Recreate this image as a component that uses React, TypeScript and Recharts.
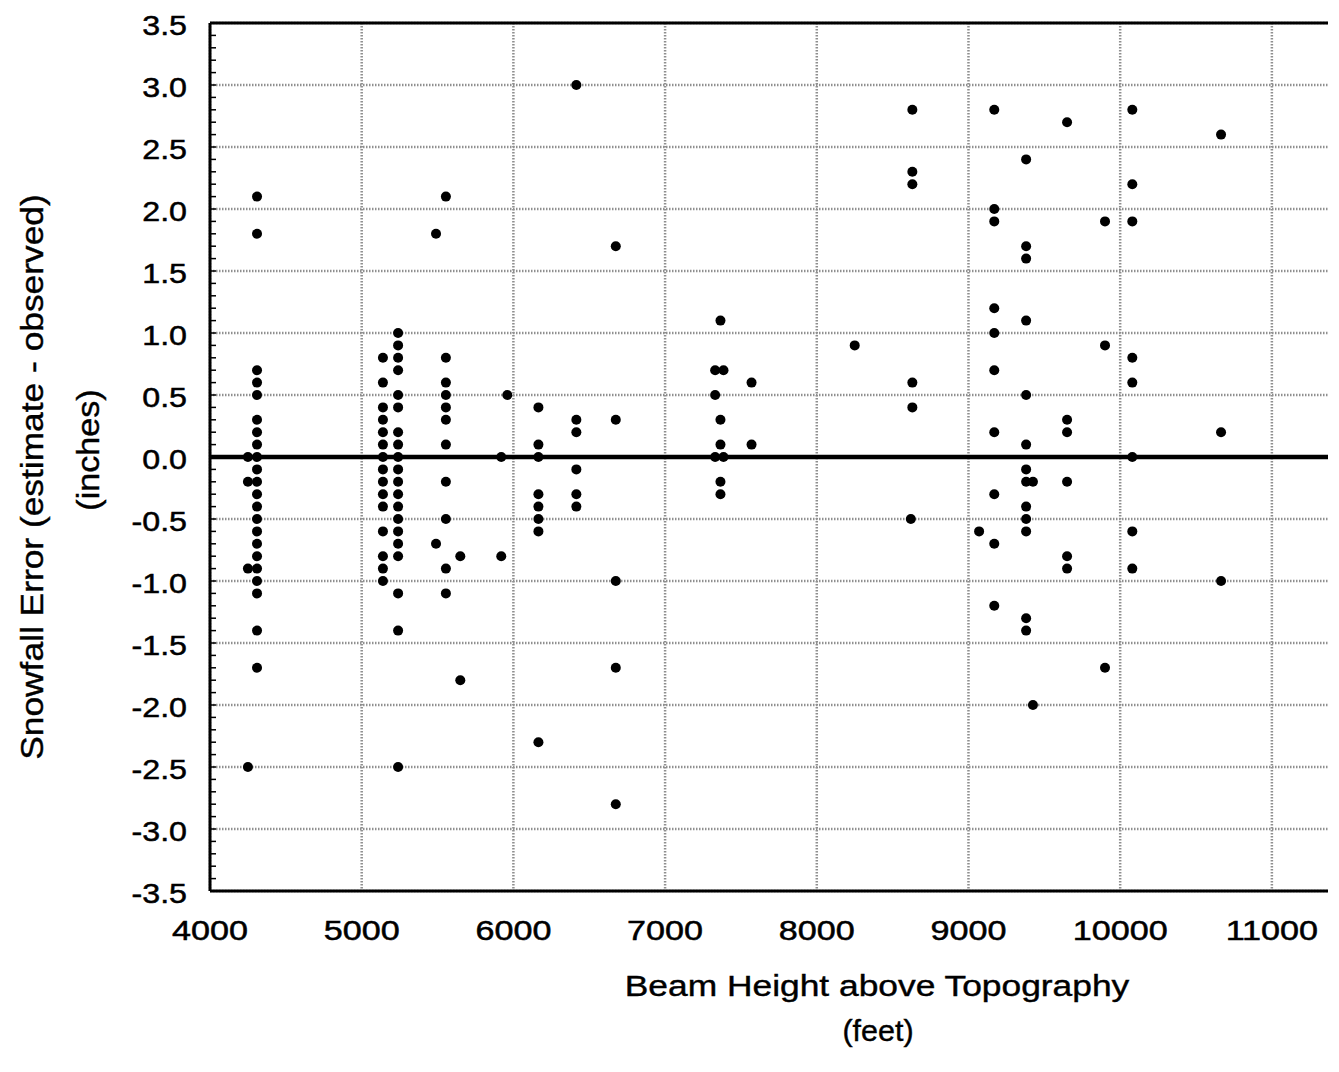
import React from 'react';
import { ScatterChart, Scatter, XAxis, YAxis, CartesianGrid, ReferenceLine } from 'recharts';

// Beam height above topography (feet) and snowfall error (inches)
const beamHeightFt = [
  4250, 4250, 4250, 4250,
  4310, 4310, 4310, 4310, 4310, 4310, 4310, 4310, 4310, 4310, 4310,
  4310, 4310, 4310, 4310, 4310, 4310, 4310, 4310, 4310, 4310, 4310,
  5140, 5140, 5140, 5140, 5140, 5140, 5140, 5140, 5140, 5140, 5140, 5140, 5140, 5140, 5140,
  5240, 5240, 5240, 5240, 5240, 5240, 5240, 5240, 5240, 5240,
  5240, 5240, 5240, 5240, 5240, 5240, 5240, 5240, 5240, 5240,
  5490, 5490,
  5555, 5555, 5555, 5555, 5555, 5555, 5555, 5555, 5555, 5555, 5555,
  5650, 5650,
  5920, 5920,
  5960,
  6165, 6165, 6165, 6165, 6165, 6165, 6165, 6165,
  6415, 6415, 6415, 6415, 6415, 6415,
  6675, 6675, 6675, 6675, 6675,
  7330, 7330, 7330,
  7365, 7365, 7365, 7365, 7365,
  7385, 7385,
  7570, 7570,
  8250,
  8620,
  8630, 8630, 8630, 8630, 8630,
  9070,
  9170, 9170, 9170, 9170, 9170, 9170, 9170, 9170, 9170, 9170,
  9380, 9380, 9380, 9380, 9380, 9380, 9380, 9380, 9380, 9380, 9380, 9380, 9380,
  9425, 9425,
  9650, 9650, 9650, 9650, 9650, 9650,
  9900, 9900, 9900,
  10080, 10080, 10080, 10080, 10080, 10080, 10080, 10080,
  10665, 10665, 10665,
];

const snowfallErrorIn = [
  0.0, -0.2, -0.9, -2.5,
  2.1, 1.8, 0.7, 0.6, 0.5, 0.3, 0.2, 0.1, 0.0, -0.1, -0.2,
  -0.3, -0.4, -0.5, -0.6, -0.7, -0.8, -0.9, -1.0, -1.1, -1.4, -1.7,
  0.8, 0.6, 0.4, 0.3, 0.2, 0.1, 0.0, -0.1, -0.2, -0.3, -0.4, -0.6, -0.8, -0.9, -1.0,
  1.0, 0.9, 0.8, 0.7, 0.5, 0.4, 0.2, 0.1, 0.0, -0.1,
  -0.2, -0.3, -0.4, -0.5, -0.6, -0.7, -0.8, -1.1, -1.4, -2.5,
  1.8, -0.7,
  2.1, 0.8, 0.6, 0.5, 0.4, 0.3, 0.1, -0.2, -0.5, -0.9, -1.1,
  -0.8, -1.8,
  0.0, -0.8,
  0.5,
  0.4, 0.1, 0.0, -0.3, -0.4, -0.5, -0.6, -2.3,
  3.0, 0.3, 0.2, -0.1, -0.3, -0.4,
  1.7, 0.3, -1.0, -1.7, -2.8,
  0.7, 0.5, 0.0,
  1.1, 0.3, 0.1, -0.2, -0.3,
  0.7, 0.0,
  0.6, 0.1,
  0.9,
  -0.5,
  2.8, 2.3, 2.2, 0.6, 0.4,
  -0.6,
  2.8, 2.0, 1.9, 1.2, 1.0, 0.7, 0.2, -0.3, -0.7, -1.2,
  2.4, 1.7, 1.6, 1.1, 0.5, 0.1, -0.1, -0.2, -0.4, -0.5, -0.6, -1.3, -1.4,
  -0.2, -2.0,
  2.7, 0.3, 0.2, -0.2, -0.8, -0.9,
  1.9, 0.9, -1.7,
  2.8, 2.2, 1.9, 0.8, 0.6, 0.0, -0.6, -0.9,
  2.6, 0.2, -1.0,
];

const xTickValues = [4000, 5000, 6000, 7000, 8000, 9000, 10000, 11000];
const xTickLabels = ['4000', '5000', '6000', '7000', '8000', '9000', '10000', '11000'];
const yTickValues = [-3.5, -3.0, -2.5, -2.0, -1.5, -1.0, -0.5, 0.0, 0.5, 1.0, 1.5, 2.0, 2.5, 3.0, 3.5];
const yTickLabels = ['-3.5', '-3.0', '-2.5', '-2.0', '-1.5', '-1.0', '-0.5', '0.0', '0.5', '1.0', '1.5', '2.0', '2.5', '3.0', '3.5'];

const xDomain: [number, number] = [4000, 11370];
const yDomain: [number, number] = [-3.5, 3.5];

const xMinorTicks: number[] = [];
for (let v = 4000; v <= 11200; v += 200) xMinorTicks.push(v);
const yMinorTicks: number[] = [];
for (let i = -35; i <= 35; i++) yMinorTicks.push(i / 10);

const points = beamHeightFt.map((x, i) => ({ x, y: snowfallErrorIn[i] }));

const FONT = 'Liberation Sans, Arial, Helvetica, sans-serif';

const XTick = (props: any) => {
  const { x, y, payload } = props;
  const idx = xTickValues.indexOf(payload.value);
  const label = idx >= 0 ? xTickLabels[idx] : String(payload.value);
  return (
    <g transform={`translate(${x},${y + 49}) scale(1.22,1)`}>
      <text x={0} y={0} textAnchor="middle" fontSize={28} fontFamily={FONT} fill="#000" stroke="#000" strokeWidth={0.5}>
        {label}
      </text>
    </g>
  );
};

const YTick = (props: any) => {
  const { x, y, payload } = props;
  const idx = yTickValues.findIndex((v) => Math.abs(v - payload.value) < 1e-9);
  const label = idx >= 0 ? yTickLabels[idx] : String(payload.value);
  return (
    <g transform={`translate(${x - 23},${y + 12}) scale(1.15,1)`}>
      <text x={0} y={0} textAnchor="end" fontSize={28} fontFamily={FONT} fill="#000" stroke="#000" strokeWidth={0.5}>
        {label}
      </text>
    </g>
  );
};

const EmptyTick = () => <g />;

const Dot = (props: any) => {
  const { cx, cy } = props;
  if (cx == null || cy == null) return <g />;
  return <circle cx={cx} cy={cy} r={5} fill="#000" />;
};

export default function App() {
  const W = 1331;
  const H = 1064;
  return (
    <div style={{ position: 'relative', width: W, height: H }}>
      <ScatterChart
        width={W}
        height={H}
        margin={{ top: 15, right: 11, bottom: 121, left: 122 }}
      >
        <CartesianGrid
          stroke="#8f8f8f"
          strokeWidth={2.5}
          strokeDasharray="1.5 1.5"
          horizontalValues={yTickValues}
          verticalValues={xTickValues}
        />
        <XAxis
          xAxisId={0}
          dataKey="x"
          type="number"
          domain={xDomain}
          ticks={xTickValues}
          allowDataOverflow
          interval={0}
          height={60}
          tickLine={false}
          tickSize={0}
          tickMargin={0}
          axisLine={{ stroke: '#000', strokeWidth: 3 }}
          tick={<XTick />}
        />
        <XAxis
          xAxisId="bottomMinor"
          type="number"
          domain={xDomain}
          ticks={xMinorTicks}
          allowDataOverflow
          interval={0}
          orientation="bottom"
          mirror
          height={1}
          tick={<EmptyTick />}
          tickSize={6}
          tickLine={{ stroke: '#000', strokeWidth: 1.5 }}
          axisLine={false}
        />
        <XAxis
          xAxisId="topMinor"
          type="number"
          domain={xDomain}
          ticks={xMinorTicks}
          allowDataOverflow
          interval={0}
          orientation="top"
          mirror
          height={1}
          tick={<EmptyTick />}
          tickSize={6}
          tickLine={{ stroke: '#000', strokeWidth: 1.5 }}
          axisLine={{ stroke: '#000', strokeWidth: 3 }}
        />
        <YAxis
          yAxisId={0}
          dataKey="y"
          type="number"
          domain={yDomain}
          ticks={yTickValues}
          allowDataOverflow
          interval={0}
          width={80}
          tickLine={false}
          tickSize={0}
          tickMargin={0}
          axisLine={{ stroke: '#000', strokeWidth: 3 }}
          tick={<YTick />}
        />
        <YAxis
          yAxisId="leftMinor"
          type="number"
          domain={yDomain}
          ticks={yMinorTicks}
          allowDataOverflow
          interval={0}
          orientation="left"
          mirror
          width={1}
          tick={<EmptyTick />}
          tickSize={6}
          tickLine={{ stroke: '#000', strokeWidth: 1.5 }}
          axisLine={false}
        />
        <ReferenceLine y={0} stroke="#000" strokeWidth={4.5} />
        <Scatter data={points} fill="#000" shape={<Dot />} isAnimationActive={false} />
      </ScatterChart>
      <svg
        width={W}
        height={H}
        style={{ position: 'absolute', left: 0, top: 0, pointerEvents: 'none' }}
      >
        <g transform="translate(869,988) scale(1.22,1)">
          <text textAnchor="middle" fontSize={29} fontFamily={FONT} fill="#000" stroke="#000" strokeWidth={0.4}>
            Beam Height above Topography
          </text>
        </g>
        <g transform="translate(870,1033) scale(1.05,1)">
          <text textAnchor="middle" fontSize={29} fontFamily={FONT} fill="#000" stroke="#000" strokeWidth={0.4}>
            (feet)
          </text>
        </g>
        <g transform="translate(35,469) rotate(-90) scale(1.14,1)">
          <text textAnchor="middle" fontSize={31} fontFamily={FONT} fill="#000" stroke="#000" strokeWidth={0.4}>
            Snowfall Error (estimate - observed)
          </text>
        </g>
        <g transform="translate(91,442) rotate(-90) scale(1.1,1)">
          <text textAnchor="middle" fontSize={31} fontFamily={FONT} fill="#000" stroke="#000" strokeWidth={0.4}>
            (inches)
          </text>
        </g>
      </svg>
    </div>
  );
}
